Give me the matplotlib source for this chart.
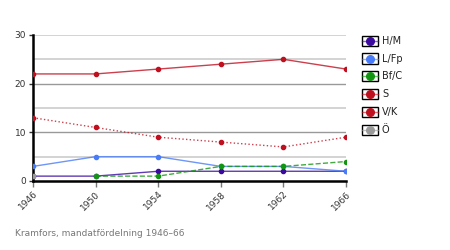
import matplotlib
matplotlib.use("Agg")
import matplotlib.pyplot as plt
from matplotlib.lines import Line2D
from matplotlib.patches import Rectangle
import numpy as np

years = [1946, 1950, 1954, 1958, 1962, 1966]
series = ["H/M", "L/Fp", "Bf/C", "S", "V/K", "Ö"]
hm = [1, 1, 2, 2, 2, 2]
lfp = [3, 5, 5, 3, 3, 2]
bfc = [None, 1, 1, 3, 3, 4]
s = [22, 22, 23, 24, 25, 23]
vk = [13, 11, 9, 8, 7, 9]
o = [1, None, None, None, None, None]

colors = ["#3a0a9e", "#4a7cf7", "#129612", "#bf1020", "#bf1020", "#9a9a9a"]
styles = ["-", "-", "--", "-", ":", "-"]
data = [hm, lfp, bfc, s, vk, o]

W, H = 450, 250
fig = plt.figure(figsize=(4.5, 2.5), dpi=100)
ax = fig.add_axes([33/W, 1-181/H, (346-33)/W, (181-35)/H])

for v in [5, 15, 25, 30]:
    ax.axhline(v, color="#cccccc", lw=1.2, zorder=0)
for v in [10, 20]:
    ax.axhline(v, color="#999999", lw=1.0, zorder=0)

for name, vals, c, ls in zip(series, data, colors, styles):
    xs = [y for y, v in zip(years, vals) if v is not None]
    ys = [v for v in vals if v is not None]
    ax.plot(xs, ys, color=c, ls=ls, lw=1.0, alpha=0.8, zorder=2)
    ax.plot(xs, ys, color=c, ls="none", marker="o", ms=3, zorder=3)

ax.set_xlim(1946, 1966)
ax.set_ylim(0, 30)
ax.set_xticks(years)
ax.set_xticklabels([str(y) for y in years], rotation=45, ha="right", rotation_mode="anchor", fontsize=6.5, color="#333333")
ax.set_yticks([0, 10, 20, 30])
ax.tick_params(axis="y", labelsize=6.5, colors="#333333", length=3, width=1, pad=2)
ax.tick_params(axis="x", length=4, width=1, color="#777777", pad=2)
for sp in ["top", "right"]:
    ax.spines[sp].set_visible(False)
ax.spines["left"].set_linewidth(1.8)
ax.spines["bottom"].set_linewidth(1.8)

# legend drawn manually: boxed swatches
x0, x1 = 362, 378
ycs = [41, 58.5, 76, 94, 112, 130]
for name, c, yc in zip(series, colors, ycs):
    fig.patches.append(Rectangle((x0/W, 1-(yc+5)/H), (x1-x0)/W, 10/H, transform=fig.transFigure,
                                 facecolor="white", edgecolor="black", lw=1.0))
    fig.add_artist(Line2D([x0/W, x1/W], [1-yc/H, 1-yc/H], transform=fig.transFigure, color=c, lw=1, alpha=0.6))
    fig.add_artist(Line2D([(x0+x1)/2/W], [1-yc/H], transform=fig.transFigure, color=c, marker="o", ms=5.5, ls="none"))
    fig.text(382/W, 1-yc/H, name, fontsize=7, color="#222222", va="center", ha="left")

fig.text(15/W, 1-234/H, "Kramfors, mandatfördelning 1946–66", fontsize=6.5, color="#777777", va="center")

fig.savefig("out.png", dpi=100)
